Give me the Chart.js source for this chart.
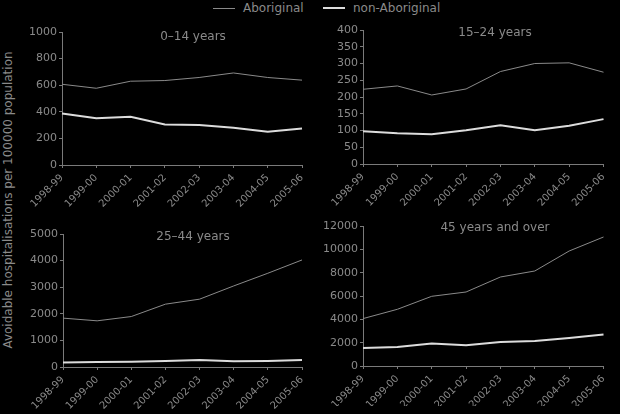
<!DOCTYPE html>
<html>
<head>
<meta charset="utf-8">
<script src="https://cdn.jsdelivr.net/npm/chart.js@4.4.1/dist/chart.umd.min.js"></script>
<style>
  html, body { margin: 0; padding: 0; background: #000; }
  #wrap { position: relative; width: 620px; height: 414px; background: #000; overflow: hidden;
          font-family: "DejaVu Sans", sans-serif; color: #8a8a8a; }
  canvas { position: absolute; }
  .ttl { position: absolute; font-size: 12px; white-space: nowrap; transform: translateX(-50%); }
  .leg { position: absolute; top: 1px; font-size: 12px; white-space: nowrap; }
  .sw { position: absolute; height: 0; width: 22px; }
  #ylab { position: absolute; left: 8px; top: 200px; font-size: 12px; white-space: nowrap;
          transform: translate(-50%, -50%) rotate(-90deg); }
</style>
</head>
<body>
<div id="wrap">
  <div class="sw" style="left:213px; top:8px; border-top:1px solid #8a8a8a;"></div>
  <div class="leg" style="left:243px;">Aboriginal</div>
  <div class="sw" style="left:323px; top:7px; border-top:2px solid #dcdcdc;"></div>
  <div class="leg" style="left:353px;">non-Aboriginal</div>
  <div id="ylab">Avoidable hospitalisations per 100000 population</div>

  <canvas id="c1" width="296" height="190" style="left:20px; top:22px;"></canvas>
  <canvas id="c2" width="296" height="190" style="left:320px; top:20px;"></canvas>
  <canvas id="c3" width="296" height="190" style="left:20px; top:224px;"></canvas>
  <canvas id="c4" width="296" height="190" style="left:320px; top:216px;"></canvas>

  <div class="ttl" style="left:193px; top:29px;">0–14 years</div>
  <div class="ttl" style="left:495px; top:25px;">15–24 years</div>
  <div class="ttl" style="left:193px; top:229px;">25–44 years</div>
  <div class="ttl" style="left:495px; top:220px;">45 years and over</div>
</div>
<script>
const years = ["1998-99","1999-00","2000-01","2001-02","2002-03","2003-04","2004-05","2005-06"];

const aboriginal0to14    = [607, 577, 630, 635, 658, 692, 658, 638];
const nonAboriginal0to14 = [388, 351, 363, 305, 300, 280, 250, 275];

const aboriginal15to24    = [223, 233, 206, 224, 276, 300, 302, 274];
const nonAboriginal15to24 = [98, 92, 89, 101, 116, 101, 114, 134];

const aboriginal25to44    = [1837, 1736, 1897, 2362, 2550, 3048, 3525, 4024];
const nonAboriginal25to44 = [170, 190, 200, 230, 260, 220, 230, 260];

const aboriginal45plus    = [4063, 4860, 5974, 6343, 7629, 8143, 9857, 11057];
const nonAboriginal45plus = [1543, 1629, 1920, 1774, 2057, 2143, 2400, 2691];

const yMax  = [1000, 400, 5000, 12000];
const yStep = [200, 50, 1000, 2000];

const TXT = '#8a8a8a';
const AX = '#7a7a7a';

// geometry: canvas left/top, desired chart area
const geo = [
  { cl: 20,  ct: 22,  cw: 296, ch: 190, left: 62,  right: 302, top: 32,  bottom: 165 },
  { cl: 320, ct: 20,  cw: 296, ch: 190, left: 363, right: 610, top: 30,  bottom: 164 },
  { cl: 20,  ct: 224, cw: 296, ch: 190, left: 63,  right: 302, top: 234, bottom: 367 },
  { cl: 320, ct: 216, cw: 296, ch: 190, left: 363, right: 610, top: 226, bottom: 366 }
];

function makeChart(id, idx, ab, nonAb) {
  const g = geo[idx];
  const yW = g.left - g.cl;
  const xH = (g.ct + g.ch) - g.bottom;
  new Chart(document.getElementById(id), {
    type: 'line',
    data: {
      labels: years,
      datasets: [
        { label: 'Aboriginal', data: ab, borderColor: '#8a8a8a', borderWidth: 1,
          pointRadius: 0, tension: 0, fill: false },
        { label: 'non-Aboriginal', data: nonAb, borderColor: '#dcdcdc', borderWidth: 2,
          pointRadius: 0, tension: 0, fill: false }
      ]
    },
    options: {
      responsive: false,
      animation: false,
      devicePixelRatio: 1,
      layout: { padding: { top: g.top - g.ct, right: (g.cl + g.cw) - g.right, left: 0, bottom: 0 } },
      plugins: { legend: { display: false }, tooltip: { enabled: false }, title: { display: false } },
      scales: {
        x: {
          offset: false,
          grid: { display: true, drawOnChartArea: false, drawTicks: true, tickLength: 3, color: AX },
          border: { display: true, color: AX, width: 1 },
          ticks: { color: TXT, font: { family: 'DejaVu Sans', size: 10 }, minRotation: 45, maxRotation: 45,
                   autoSkip: false, padding: 4 },
          afterFit: (s) => { s.height = xH; }
        },
        y: {
          min: 0, max: yMax[idx],
          grid: { display: true, drawOnChartArea: false, drawTicks: true, tickLength: 3, color: AX },
          border: { display: true, color: AX, width: 1 },
          ticks: { stepSize: yStep[idx], color: TXT, font: { family: 'DejaVu Sans', size: 11 }, padding: 2,
                   callback: (v) => String(v) },
          afterFit: (s) => { s.width = yW; }
        }
      }
    }
  });
}

makeChart('c1', 0, aboriginal0to14, nonAboriginal0to14);
makeChart('c2', 1, aboriginal15to24, nonAboriginal15to24);
makeChart('c3', 2, aboriginal25to44, nonAboriginal25to44);
makeChart('c4', 3, aboriginal45plus, nonAboriginal45plus);
</script>
</body>
</html>
